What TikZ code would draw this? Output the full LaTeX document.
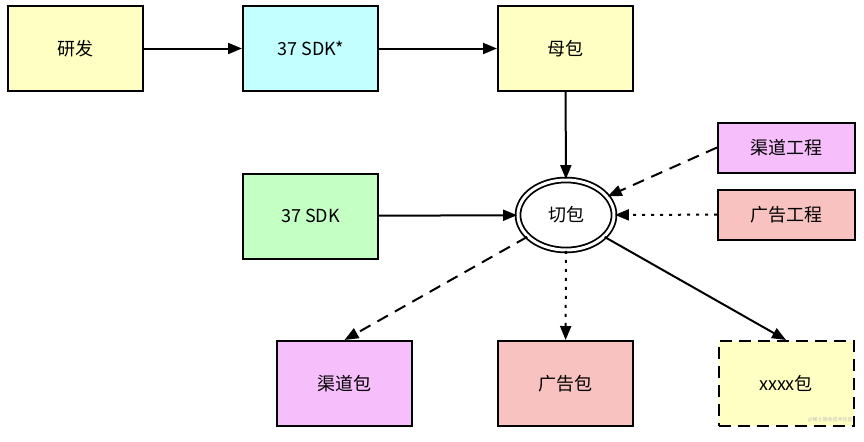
\documentclass[tikz,border=0pt]{standalone}
\usepackage{fontspec}
\setmainfont{Noto Sans CJK SC}
\usepackage{tikz}
\usetikzlibrary{arrows.meta,shapes.geometric}

\definecolor{boxyellow}{HTML}{FFFFC4}
\definecolor{boxcyan}{HTML}{C4FFFF}
\definecolor{boxgreen}{HTML}{C4FFC4}
\definecolor{boxpink}{HTML}{F7BEFC}
\definecolor{boxsalmon}{HTML}{F8C2C0}

\tikzset{
	bigbox/.style={draw,line width=1pt,minimum width=67.5pt,minimum height=42.5pt,inner sep=0pt,font=\fontsize{9}{11}\selectfont},
	smallbox/.style={draw,line width=1pt,minimum width=68.5pt,minimum height=25pt,inner sep=0pt,font=\fontsize{9}{11}\selectfont},
	flow/.style={line width=1pt,-{Triangle[length=7pt,width=5.5pt]}},
	dashflow/.style={flow,dash pattern=on 6pt off 4pt},
	dotflow/.style={flow,dash pattern=on 1.5pt off 3pt}
}

\begin{document}
\begin{tikzpicture}[x=0.5pt,y=-0.5pt]
			\useasboundingbox (0,0) rectangle (864,441);
			
			%top row
			\node[bigbox,fill=boxyellow] (yanfa) at (75.5,48.5) {研发};
			\node[bigbox,fill=boxcyan] (sdkstar) at (310.5,48.5) {37 SDK*};
			\node[bigbox,fill=boxyellow] (mubao) at (565.5,48.5) {母包};
			
			%middle row
			\node[bigbox,fill=boxgreen] (sdk) at (310.5,216) {37 SDK};
			\node[ellipse,draw,double,double distance=1.5pt,line width=0.9pt,minimum width=48pt,minimum height=35pt,inner sep=0pt,font=\fontsize{9}{11}\selectfont] (qiebao) at (566,215) {切包};
			\node[smallbox,fill=boxpink] (qudaogc) at (786.5,147.5) {渠道工程};
			\node[smallbox,fill=boxsalmon] (guanggaogc) at (786.5,214.5) {广告工程};
			
			%bottom row
			\node[bigbox,fill=boxpink] (qudaobao) at (344.5,383.5) {渠道包};
			\node[bigbox,fill=boxsalmon] (guanggaobao) at (565.5,383.5) {广告包};
			\node[bigbox,fill=boxyellow,dash pattern=on 6pt off 3.5pt] (xxxxbao) at (786,383.5) {xxxx包};
			
			%edges
			\draw[flow] (yanfa) -- (sdkstar);
			\draw[flow] (sdkstar) -- (mubao);
			\draw[flow] (mubao) -- (qiebao);
			\draw[flow] (sdk) -- (qiebao);
			\draw[dashflow] (qudaogc.west) -- (qiebao);
			\draw[dotflow] (guanggaogc) -- (qiebao);
			\draw[dashflow] (qiebao) -- (qudaobao.north);
			\draw[dotflow] (qiebao) -- (guanggaobao);
			\draw[flow] (qiebao) -- (xxxxbao.north);
			
			\node[text=black!25,font=\fontsize{2.5}{3}\selectfont,anchor=south east,inner sep=0pt] (mark) at (853,423) {@稀土掘金技术社区};
\end{tikzpicture}
\end{document}
